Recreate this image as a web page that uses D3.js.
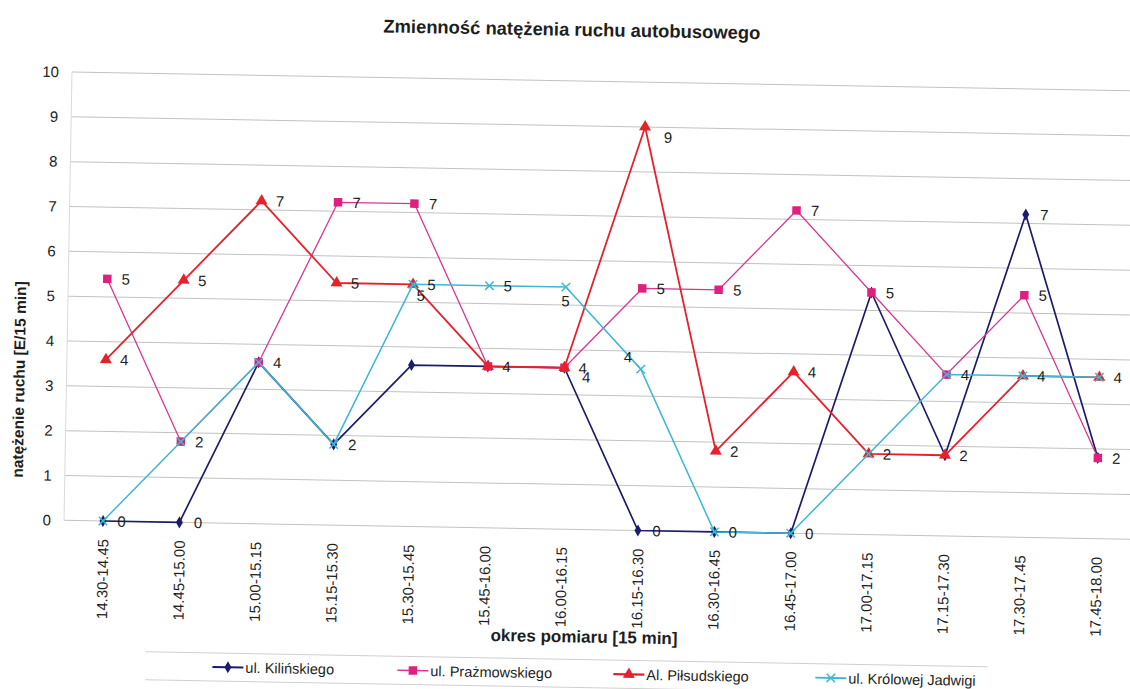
<!DOCTYPE html>
<html><head><meta charset="utf-8">
<script src="https://cdn.jsdelivr.net/npm/d3@7"></script>
<style>
body{margin:0;background:#fff;}
svg{display:block;}
text{font-family:"Liberation Sans", Arial, sans-serif;fill:#1e1e1e;}
</style>
</head><body>
<svg id="chart" width="1130" height="689"></svg>
<script>
// ---- data ----
const categories = ["14.30-14.45","14.45-15.00","15.00-15.15","15.15-15.30","15.30-15.45","15.45-16.00","16.00-16.15","16.15-16.30","16.30-16.45","16.45-17.00","17.00-17.15","17.15-17.30","17.30-17.45","17.45-18.00"];
const kilinskiego     = [0,   0,   3.6, 1.8, 3.6, 3.6, 3.6, 0,   0,   0,   5.4, 1.8, 7.2, 1.8];
const prazmowskiego   = [5.4, 1.8, 3.6, 7.2, 7.2, 3.6, 3.6, 5.4, 5.4, 7.2, 5.4, 3.6, 5.4, 1.8];
const pilsudskiego    = [3.6, 5.4, 7.2, 5.4, 5.4, 3.6, 3.6, 9.0, 1.8, 3.6, 1.8, 1.8, 3.6, 3.6];
const krolowejJadwigi = [0,   1.8, 3.6, 1.8, 5.4, 5.4, 5.4, 3.6, 0,   0,   1.8, 3.6, 3.6, 3.6];
const seriesNames = ["ul. Kilińskiego","ul. Prażmowskiego","Al. Piłsudskiego","ul. Królowej Jadwigi"];
const yTicks = [0,1,2,3,4,5,6,7,8,9,10];
const chartTitle = "Zmienność natężenia ruchu autobusowego";
const yTitle = "natężenie ruchu [E/15 min]";
const xTitle = "okres pomiaru [15 min]";

// ---- styles / layout ----
const seriesValues = [kilinskiego, prazmowskiego, pilsudskiego, krolowejJadwigi];
const colors = ["#1c1c6c", "#d8378f", "#e5222b", "#3db7d3"];
const markerFill = ["#1c1c6c", "#e0207f", "#e5222b", "none"];
const lineWidths = [1.7, 1.3, 1.8, 1.5];
const symbols = [d3.symbolDiamond, d3.symbolSquare, d3.symbolTriangle, d3.symbolX];
const symbolSizes = [42, 72, 62, 48];
const legendX = [215, 400, 616, 818];
// label center offsets (default right of point); exceptions keyed "series:index"
const labelDefault = {dx: 18.5, dy: 0};
const labelHidden = new Set(["0:4"]);
const labelOffsets = {
  "2:6": {dx: 22, dy: 9},
  "2:7": {dx: 23, dy: 10},
  "3:4": {dx: 8, dy: 11},
  "3:6": {dx: 0, dy: 14},
  "3:7": {dx: -13, dy: -12}
};

const svg = d3.select("#chart");
const root = svg.append("g").attr("transform", "rotate(1.02,103,521)");

const x = d3.scalePoint().domain(categories).range([103, 1096.6]);
const y = d3.scaleLinear().domain([0, 10]).range([521, 72.6]);
const plotLeft = 64, plotRight = 1135;

// title
root.append("text").attr("x", 563).attr("y", 27.5).attr("text-anchor", "middle")
  .attr("font-size", 18.4).attr("font-weight", "bold").text(chartTitle);

// gridlines
root.append("g").selectAll("line").data(yTicks).join("line")
  .attr("x1", plotLeft).attr("x2", plotRight)
  .attr("y1", d => y(d)).attr("y2", d => y(d))
  .attr("stroke", "#c2c2c2").attr("stroke-width", 1);
// faint y axis line
root.append("line").attr("x1", plotLeft).attr("x2", plotLeft)
  .attr("y1", y(10)).attr("y2", y(0)).attr("stroke", "#dadada");

// y axis (labels only)
const yAxis = d3.axisLeft(y).tickValues(yTicks).tickSize(0).tickPadding(0).tickFormat(d3.format("d"));
const yg = root.append("g").attr("transform", "translate(51,0)").call(yAxis);
yg.select(".domain").remove();
yg.selectAll("text").attr("font-size", 15).attr("fill", "#1e1e1e")
  .style("font-family", "'Liberation Sans', Arial, sans-serif");

// x axis (labels only, vertical)
const xAxis = d3.axisBottom(x).tickSize(0).tickPadding(0);
const xg = root.append("g").attr("transform", "translate(0,539)").call(xAxis);
xg.select(".domain").remove();
xg.selectAll("text").attr("font-size", 15).attr("fill", "#1e1e1e")
  .style("font-family", "'Liberation Sans', Arial, sans-serif")
  .attr("text-anchor", "end").attr("dy", "0.35em").attr("y", 0).attr("x", 0)
  .attr("transform", "rotate(-90)");

// axis titles
root.append("text").attr("transform", "translate(22,381) rotate(-90)")
  .attr("text-anchor", "middle").attr("font-size", 15.5).attr("font-weight", "bold").text(yTitle);
root.append("text").attr("x", 586).attr("y", 634).attr("text-anchor", "middle")
  .attr("font-size", 17).attr("font-weight", "bold").text(xTitle);

// series lines + markers
const line = d3.line().x((d, i) => x(categories[i])).y(d => y(d));
seriesValues.forEach((vals, s) => {
  const g = root.append("g");
  g.append("path").datum(vals).attr("d", line).attr("fill", "none")
    .attr("stroke", colors[s]).attr("stroke-width", lineWidths[s]).attr("stroke-linejoin", "round");
  g.selectAll("path.m").data(vals).join("path").attr("class", "m")
    .attr("transform", (d, i) => `translate(${x(categories[i])},${y(d)})`)
    .attr("d", d3.symbol().type(symbols[s]).size(symbolSizes[s]))
    .attr("fill", markerFill[s])
    .attr("stroke", s === 3 ? colors[s] : "none").attr("stroke-width", 1.5);
});

// data labels (identical labels at identical spots are drawn once)
const seen = new Set();
const labels = [];
seriesValues.forEach((vals, s) => {
  vals.forEach((v, i) => {
    if (labelHidden.has(s + ":" + i)) return;
    const off = labelOffsets[s + ":" + i] || labelDefault;
    const lx = x(categories[i]) + off.dx, ly = y(v) + off.dy, t = String(Math.round(v));
    const key = t + "@" + Math.round(lx) + "," + Math.round(ly);
    if (seen.has(key)) return;
    seen.add(key);
    labels.push({lx, ly, t});
  });
});
root.append("g").selectAll("text").data(labels).join("text")
  .attr("x", d => d.lx).attr("y", d => d.ly)
  .attr("dy", "0.36em").attr("text-anchor", "middle").attr("font-size", 15)
  .text(d => d.t);

// legend
const lg = root.append("g");
[651, 679].forEach(yy => lg.append("line").attr("x1", 148).attr("x2", 990)
  .attr("y1", yy).attr("y2", yy).attr("stroke", "#d0d0d0").attr("stroke-width", 1));
const ly = 665;
seriesNames.forEach((name, s) => {
  const lx = legendX[s];
  const it = lg.append("g");
  it.append("line").attr("x1", lx).attr("x2", lx + 31).attr("y1", ly).attr("y2", ly)
    .attr("stroke", colors[s]).attr("stroke-width", lineWidths[s] + 0.3);
  it.append("path").attr("transform", `translate(${lx + 15.5},${ly})`)
    .attr("d", d3.symbol().type(symbols[s]).size(symbolSizes[s]))
    .attr("fill", markerFill[s]).attr("stroke", s === 3 ? colors[s] : "none").attr("stroke-width", 1.5);
  it.append("text").attr("x", lx + 33).attr("y", ly).attr("dy", "0.36em")
    .attr("font-size", 14.5).text(name);
});
</script>
</body></html>
